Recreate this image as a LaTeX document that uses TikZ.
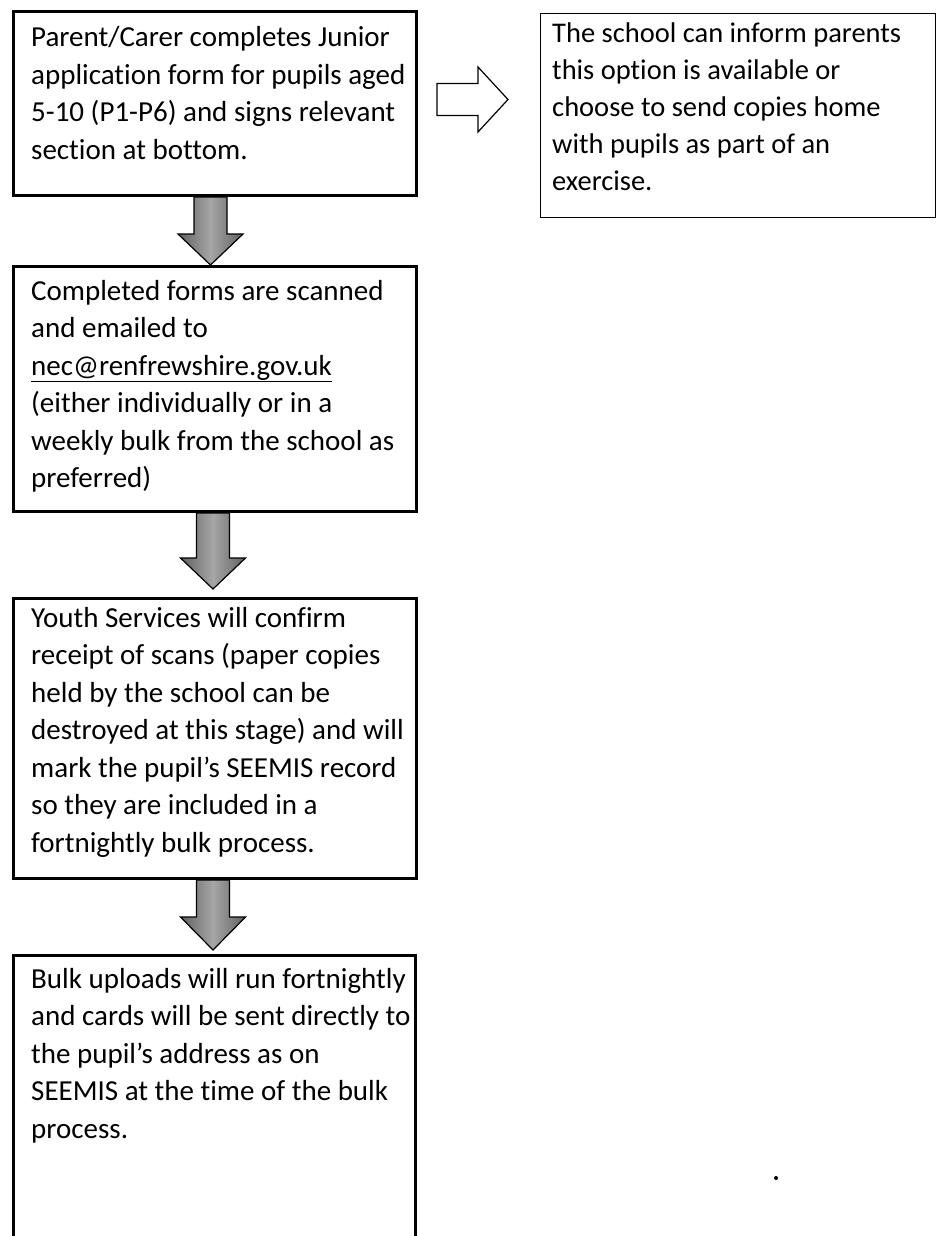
\documentclass[tikz,border=0pt]{standalone}
\usepackage{fontspec}
\setmainfont[Ligatures=NoCommon]{Carlito}
\usetikzlibrary{calc}
\newcommand\blockdown[5]{%
  \draw[garrow] let \p1=($(#1.south)+(#3,0)$), \p2=(#2.north) in
    (\x1-16.5pt,\y1) -- (\x1-16.5pt,\y2+#4pt+#5pt) -- (\x1-32.5pt,\y2+#4pt+#5pt)
    -- (\x1,\y2+#4pt) -- (\x1+32.5pt,\y2+#4pt+#5pt) -- (\x1+16.5pt,\y2+#4pt+#5pt)
    -- (\x1+16.5pt,\y1) -- cycle;}
\begin{document}
\begin{tikzpicture}[x=1pt,y=-1pt,
  thickbox/.style={draw, line width=3pt, inner sep=0pt, anchor=north west},
  thinbox/.style={draw, line width=1.4pt, inner sep=0pt, anchor=north west},
  txt/.style={inner sep=0pt, anchor=base west, font=\fontsize{29}{37.5}\selectfont},
  txtr/.style={inner sep=0pt, anchor=base west, font=\fontsize{28.5}{37}\selectfont},
  garrow/.style={draw=black, line width=1.2pt, left color=black!62, right color=black!62, middle color=black!35},
  harrow/.style={draw=black, line width=1.2pt, fill=white}]
\useasboundingbox (0,0) rectangle (936,1236);
\clip (0,0) rectangle (936,1236);
\fill[white] (0,0) rectangle (936,1236);

\node[thickbox, minimum width=403pt, minimum height=184pt] (b1) at (12,10) {};
\node[thickbox, minimum width=403pt, minimum height=245pt] (b2) at (12,265) {};
\node[thickbox, minimum width=403pt, minimum height=280pt] (b3) at (12,597) {};
\node[thickbox, minimum width=402pt, minimum height=400pt] (b4) at (12,954) {};
\node[thinbox, minimum width=394.6pt, minimum height=203.6pt] (r1) at (540,13) {};

\node[txt] (t1) at (31,47) {\parbox[t]{440pt}{\raggedright
Parent/Carer completes Junior\\
application form for pupils aged\\
5-10 (P1-P6) and signs relevant\\
section at bottom.}};

\node[txt] (t2) at (31,300) {\parbox[t]{440pt}{\raggedright
Completed forms are scanned\\
and emailed to\\
\underline{nec@renfrewshire.gov.uk}\\
(either individually or in a\\
weekly bulk from the school as\\
preferred)}};

\node[txt] (t3) at (31,627) {\parbox[t]{440pt}{\raggedright
Youth Services will confirm\\
receipt of scans (paper copies\\
held by the school can be\\
destroyed at this stage) and will\\
mark the pupil’s SEEMIS record\\
so they are included in a\\
fortnightly bulk process.}};

\node[txt] (t4) at (31,988) {\parbox[t]{440pt}{\raggedright
Bulk uploads will run fortnightly\\
and cards will be sent directly to\\
the pupil’s address as on\\
SEEMIS at the time of the bulk\\
process.}};

\node[txtr] (tr) at (552,43) {\parbox[t]{420pt}{\raggedright
The school can inform parents\\
this option is available or\\
choose to send copies home\\
with pupils as part of an\\
exercise.}};

\blockdown{b1}{b2}{-4.5}{0}{31}
\blockdown{b2}{b3}{-2}{8}{31}
\blockdown{b3}{b4}{-2}{4}{33}

\draw[harrow] let \p1=(b1.east), \p2=(r1.west) in
  (\x1+19pt,\y1+20pt) -- (\x2-62pt,\y1+20pt) -- (\x2-62pt,\y1+36.5pt)
  -- (\x2-32pt,\y1+4pt) -- (\x2-62pt,\y1-28.5pt) -- (\x2-62pt,\y1-12pt)
  -- (\x1+19pt,\y1-12pt) -- cycle;

\fill (776,1178) circle (2pt);
\end{tikzpicture}
\end{document}
